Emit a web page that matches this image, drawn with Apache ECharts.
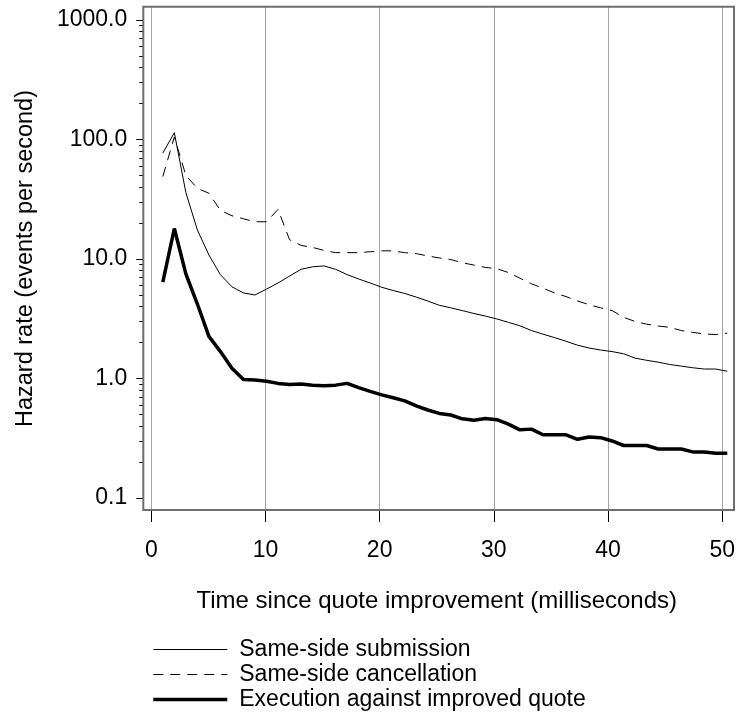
<!DOCTYPE html>
<html>
<head>
<meta charset="utf-8">
<script src="https://cdn.jsdelivr.net/npm/echarts@6/dist/echarts.min.js"></script>
<style>
  html, body { margin: 0; padding: 0; background: #fff; }
  #chart { width: 738px; height: 717px; }
</style>
</head>
<body>
<div id="chart"></div>
<script>
// time since quote improvement (ms)
var times = [];
for (var i = 1; i <= 50; i++) times.push(i);

// hazard rates, events per second
var submission = [77, 114, 36, 17.5, 10.8, 7.4, 5.85, 5.2, 5.0, 5.6,
  6.3, 7.2, 8.2, 8.6, 8.75, 8.2, 7.4, 6.8, 6.3, 5.8,
  5.45, 5.15, 4.8, 4.45, 4.1, 3.9, 3.7, 3.5, 3.33, 3.15,
  2.95, 2.76, 2.52, 2.35, 2.2, 2.05, 1.9, 1.8, 1.73, 1.68,
  1.61, 1.48, 1.42, 1.37, 1.31, 1.27, 1.23, 1.2, 1.2, 1.15];
var cancellation = [49, 105, 50, 39, 35.5, 25.5, 23, 21.7, 20.5, 20.5,
  26, 14.5, 13, 12.5, 11.8, 11.3, 11.3, 11.3, 11.5, 11.7,
  11.7, 11.3, 11.1, 10.6, 10.2, 9.9, 9.3, 8.9, 8.5, 8.3,
  7.7, 6.9, 6.2, 5.7, 5.2, 4.85, 4.45, 4.15, 3.9, 3.7,
  3.25, 3.0, 2.85, 2.75, 2.68, 2.52, 2.43, 2.36, 2.33, 2.4];
var execution = [6.4, 18, 7.5, 4.2, 2.25, 1.68, 1.22, 0.98, 0.97, 0.95,
  0.91, 0.89, 0.9, 0.88, 0.87, 0.88, 0.91, 0.84, 0.78, 0.73,
  0.69, 0.65, 0.59, 0.545, 0.51, 0.495, 0.46, 0.447, 0.462, 0.452,
  0.415, 0.372, 0.377, 0.338, 0.338, 0.338, 0.31, 0.324, 0.32, 0.3,
  0.275, 0.275, 0.275, 0.257, 0.257, 0.257, 0.243, 0.243, 0.237, 0.237];

var seriesNames = ["Same-side submission", "Same-side cancellation", "Execution against improved quote"];
var yTickLabels = [0.1, 1, 10, 100, 1000];
var xTicks = [0, 10, 20, 30, 40, 50];

// y ticks live on a log10 value axis spanning the frame
var majorExp = yTickLabels.map(function (v) { return Math.log10(v); });
var minorExp = [];
[0.1, 1, 10, 100].forEach(function (d) {
  for (var k = 2; k <= 9; k++) minorExp.push(Math.log10(k * d));
});

var font = "'Liberation Sans', Arial, sans-serif";
var frameMin = -1.1004, frameMax = 3.1088;

var lineStyles = [
  { color: "#000", width: 1 },
  { color: "#000", width: 1, type: [10, 7] },
  { color: "#000", width: 3.5 }
];

function pairs(vals) {
  return vals.map(function (v, i) { return [times[i], v]; });
}

var myChart = echarts.init(document.getElementById("chart"));
myChart.setOption({
  animation: false,
  textStyle: { fontFamily: font, color: "#000" },
  grid: [
    { left: 151.3, right: 10.7, top: 7, bottom: 207 },
    { left: 151.3, right: 10.7, top: 20, bottom: 219 }
  ],
  xAxis: [
    {
      gridIndex: 0,
      type: "value",
      position: "bottom",
      min: xTicks[0],
      max: xTicks[xTicks.length - 1],
      interval: 10,
      axisLine: { show: false, onZero: false },
      axisTick: { length: 12, lineStyle: { color: "#000", width: 1 } },
      axisLabel: { fontSize: 23, color: "#000", margin: 29, fontFamily: font },
      splitLine: { show: true, lineStyle: { color: "#a6a6a6", width: 1 } },
      name: "Time since quote improvement (milliseconds)",
      nameLocation: "middle",
      nameGap: 79,
      nameTextStyle: { fontSize: 24, color: "#000", fontFamily: font }
    },
    { gridIndex: 1, type: "value", min: 0, max: 50, show: false, axisLine: { onZero: false } }
  ],
  yAxis: [
    {
      gridIndex: 0,
      type: "value",
      position: "left",
      min: frameMin,
      max: frameMax,
      offset: 8,
      axisLine: { show: false, onZero: false },
      splitLine: { show: false },
      axisTick: { customValues: majorExp, length: 7, lineStyle: { color: "#000" } },
      axisLabel: {
        customValues: majorExp,
        fontSize: 23,
        color: "#000",
        margin: 16,
        fontFamily: font,
        formatter: function (v) { return Math.pow(10, v).toFixed(1); }
      },
      name: "Hazard rate (events per second)",
      nameLocation: "middle",
      nameGap: 106,
      nameTextStyle: { fontSize: 23.5, color: "#000", fontFamily: font }
    },
    {
      gridIndex: 0,
      type: "value",
      position: "left",
      min: frameMin,
      max: frameMax,
      offset: 8,
      axisLine: { show: false, onZero: false },
      splitLine: { show: false },
      axisLabel: { show: false },
      axisTick: { customValues: minorExp, length: 4, lineStyle: { color: "#000" } }
    },
    { gridIndex: 1, type: "log", logBase: 10, min: 0.1, max: 1000, show: false, axisLine: { onZero: false } }
  ],
  legend: {
    orient: "vertical",
    left: 151.5,
    top: 638,
    height: 100,
    padding: 0,
    itemWidth: 74,
    itemHeight: 14,
    itemGap: 2,
    itemStyle: { opacity: 0, borderWidth: 0 },
    textStyle: { fontSize: 23, lineHeight: 23, color: "#000", fontFamily: font, padding: [0, 0, 0, 7] },
    data: seriesNames.map(function (n, i) {
      return { name: n, lineStyle: lineStyles[i] };
    })
  },
  graphic: [
    {
      type: "rect",
      z: 100,
      shape: { x: 143.3, y: 6.7, width: 590.7, height: 503.3 },
      style: { fill: null, stroke: "#6e6e6e", lineWidth: 2 }
    }
  ],
  series: [submission, cancellation, execution].map(function (vals, i) {
    return {
      name: seriesNames[i],
      type: "line",
      xAxisIndex: 1,
      yAxisIndex: 2,
      symbol: "none",
      color: "#000",
      lineStyle: lineStyles[i],
      data: pairs(vals)
    };
  })
});
</script>
</body>
</html>
